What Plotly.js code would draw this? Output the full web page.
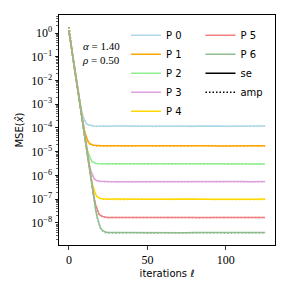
<!DOCTYPE html>
<html>
<head>
<meta charset="utf-8">
<script src="https://cdn.plot.ly/plotly-3.0.1.min.js"></script>
<style>html,body{margin:0;padding:0;background:#fff;}#chart{width:291px;height:291px;}</style>
</head>
<body>
<div id="chart"></div>
<script>
const iters = [0,1,2,3,4,5,6,7,8,9,10,11,12,13,14,15,16,17,18,19,20,21,22,23,24,
  25,30,35,40,45,50,55,60,65,70,75,80,85,90,95,100,105,110,115,120,125];

const seriesNames = ["P 0","P 1","P 2","P 3","P 4","P 5","P 6"];
const seriesColors = ["#add8e6","#ffa500","#90ee90","#dda0dd","#ffd700","#f08080","#8fbc8f"];

const seP0 = [1.26,0.452,0.161,0.0575,0.0210,0.00776,0.00296,0.00121,5.53e-4,3.02e-4,2.01e-4,1.59e-4,1.40e-4,1.31e-4,1.26e-4,1.24e-4,1.22e-4,1.21e-4,1.21e-4,1.20e-4,1.19e-4,1.20e-4,1.21e-4,1.19e-4,1.20e-4,
  1.19e-4,1.20e-4,1.18e-4,1.19e-4,1.21e-4,1.20e-4,1.18e-4,1.19e-4,1.20e-4,1.22e-4,1.20e-4,1.19e-4,1.18e-4,1.20e-4,1.21e-4,1.19e-4,1.18e-4,1.20e-4,1.21e-4,1.19e-4,1.22e-4];
const seP1 = [1.26,0.447,0.158,0.0565,0.0203,0.00731,0.00265,9.84e-4,3.79e-4,1.57e-4,7.36e-5,4.14e-5,2.84e-5,2.29e-5,2.04e-5,1.92e-5,1.86e-5,1.82e-5,1.80e-5,1.79e-5,1.78e-5,1.77e-5,1.79e-5,1.78e-5,1.77e-5,
  1.78e-5,1.76e-5,1.79e-5,1.77e-5,1.78e-5,1.80e-5,1.77e-5,1.76e-5,1.78e-5,1.79e-5,1.77e-5,1.78e-5,1.80e-5,1.78e-5,1.76e-5,1.79e-5,1.78e-5,1.77e-5,1.79e-5,1.78e-5,1.77e-5];
const seP2 = [1.26,0.447,0.158,0.0562,0.0200,0.00714,0.00257,9.25e-4,3.37e-4,1.26e-4,4.95e-5,2.12e-5,1.04e-5,6.28e-6,4.56e-6,3.81e-6,3.47e-6,3.30e-6,3.21e-6,3.16e-6,3.13e-6,3.11e-6,3.10e-6,3.09e-6,3.10e-6,
  3.09e-6,3.08e-6,3.10e-6,3.12e-6,3.09e-6,3.07e-6,3.10e-6,3.11e-6,3.08e-6,3.06e-6,3.09e-6,3.11e-6,3.10e-6,3.08e-6,3.07e-6,3.09e-6,3.12e-6,3.10e-6,3.08e-6,3.09e-6,3.07e-6];
const seP3 = [1.26,0.447,0.158,0.0562,0.0200,0.00708,0.00253,9.02e-4,3.24e-4,1.17e-4,4.32e-5,1.63e-5,6.56e-6,2.92e-6,1.53e-6,9.84e-7,7.55e-7,6.52e-7,6.04e-7,5.79e-7,5.66e-7,5.59e-7,5.54e-7,5.52e-7,5.50e-7,
  5.50e-7,5.48e-7,5.51e-7,5.53e-7,5.49e-7,5.47e-7,5.50e-7,5.52e-7,5.49e-7,5.48e-7,5.51e-7,5.50e-7,5.47e-7,5.49e-7,5.52e-7,5.50e-7,5.48e-7,5.51e-7,5.49e-7,5.47e-7,5.50e-7];
const seP4 = [1.26,0.447,0.158,0.0562,0.0200,0.00708,0.00251,8.97e-4,3.18e-4,1.14e-4,4.11e-5,1.49e-5,5.53e-6,2.13e-6,8.81e-7,4.14e-7,2.33e-7,1.60e-7,1.29e-7,1.15e-7,1.08e-7,1.045e-7,1.03e-7,1.02e-7,1.01e-7,
  1.00e-7,1.01e-7,0.99e-7,1.00e-7,1.02e-7,1.00e-7,0.99e-7,1.01e-7,1.00e-7,0.99e-7,1.01e-7,1.02e-7,1.00e-7,0.99e-7,1.00e-7,1.01e-7,1.00e-7,0.99e-7,1.01e-7,1.00e-7,1.01e-7];
const seP5 = [1.26,0.447,0.158,0.0562,0.0200,0.00708,0.00251,8.91e-4,3.17e-4,1.13e-4,4.02e-5,1.45e-5,5.20e-6,1.89e-6,7.10e-7,2.78e-7,1.19e-7,5.82e-8,3.48e-8,2.52e-8,2.10e-8,1.91e-8,1.81e-8,1.76e-8,1.73e-8,
  1.71e-8,1.70e-8,1.72e-8,1.74e-8,1.75e-8,1.73e-8,1.70e-8,1.69e-8,1.71e-8,1.70e-8,1.72e-8,1.70e-8,1.68e-8,1.70e-8,1.71e-8,1.69e-8,1.70e-8,1.72e-8,1.70e-8,1.69e-8,1.71e-8];
const seP6 = [1.26,0.447,0.158,0.0562,0.0200,0.00708,0.00251,8.91e-4,3.16e-4,1.12e-4,4.01e-5,1.43e-5,5.09e-6,1.83e-6,6.64e-7,2.45e-7,9.38e-8,3.84e-8,1.76e-8,9.66e-9,6.47e-9,5.13e-9,4.52e-9,4.23e-9,4.07e-9,
  3.98e-9,3.93e-9,3.90e-9,3.92e-9,3.95e-9,3.91e-9,3.88e-9,3.90e-9,3.93e-9,3.91e-9,3.89e-9,3.92e-9,3.94e-9,3.90e-9,3.88e-9,3.91e-9,3.93e-9,3.90e-9,3.92e-9,3.95e-9,3.93e-9];

const ampP0 = [1.8,0.47,0.165,0.058,0.0212,0.0078,0.0030,0.00122,5.6e-4,3.0e-4,2.0e-4,1.56e-4,1.38e-4,1.28e-4,1.24e-4,1.21e-4,1.17e-4,1.19e-4,1.16e-4,1.20e-4,1.15e-4,1.18e-4,1.21e-4,1.16e-4,1.19e-4,
  1.15e-4,1.21e-4,1.16e-4,1.18e-4,1.22e-4,1.17e-4,1.15e-4,1.20e-4,1.18e-4,1.23e-4,1.17e-4,1.16e-4,1.19e-4,1.21e-4,1.18e-4,1.16e-4,1.20e-4,1.17e-4,1.22e-4,1.18e-4,1.21e-4];
const ampP1 = [1.8,0.46,0.162,0.057,0.0205,0.0074,0.0027,9.9e-4,3.8e-4,1.55e-4,7.2e-5,4.0e-5,2.75e-5,2.2e-5,1.97e-5,1.86e-5,1.80e-5,1.76e-5,1.74e-5,1.77e-5,1.73e-5,1.76e-5,1.79e-5,1.74e-5,1.76e-5,
  1.74e-5,1.77e-5,1.75e-5,1.79e-5,1.74e-5,1.78e-5,1.75e-5,1.73e-5,1.77e-5,1.76e-5,1.74e-5,1.79e-5,1.76e-5,1.75e-5,1.73e-5,1.77e-5,1.75e-5,1.74e-5,1.78e-5,1.76e-5,1.74e-5];
const ampP2 = [1.8,0.46,0.162,0.057,0.0203,0.0072,0.0026,9.3e-4,3.35e-4,1.24e-4,4.85e-5,2.07e-5,1.01e-5,6.1e-6,4.4e-6,3.7e-6,3.36e-6,3.18e-6,3.12e-6,3.05e-6,3.09e-6,3.03e-6,3.07e-6,3.02e-6,3.06e-6,
  3.03e-6,3.07e-6,3.02e-6,3.08e-6,3.04e-6,3.01e-6,3.06e-6,3.09e-6,3.03e-6,3.00e-6,3.05e-6,3.08e-6,3.04e-6,3.02e-6,3.06e-6,3.03e-6,3.08e-6,3.05e-6,3.01e-6,3.06e-6,3.03e-6];
const ampP3 = [1.8,0.46,0.162,0.057,0.0203,0.0072,0.00257,9.1e-4,3.22e-4,1.15e-4,4.25e-5,1.6e-5,6.4e-6,2.85e-6,1.49e-6,9.6e-7,7.35e-7,6.35e-7,5.9e-7,5.62e-7,5.55e-7,5.45e-7,5.42e-7,5.38e-7,5.41e-7,
  5.37e-7,5.42e-7,5.39e-7,5.44e-7,5.36e-7,5.40e-7,5.43e-7,5.38e-7,5.41e-7,5.35e-7,5.40e-7,5.43e-7,5.37e-7,5.39e-7,5.42e-7,5.38e-7,5.36e-7,5.41e-7,5.39e-7,5.37e-7,5.40e-7];
const ampP4 = [1.8,0.46,0.162,0.057,0.0203,0.0072,0.00255,9.0e-4,3.15e-4,1.12e-4,4.05e-5,1.46e-5,5.4e-6,2.08e-6,8.6e-7,4.05e-7,2.28e-7,1.56e-7,1.26e-7,1.12e-7,1.05e-7,1.01e-7,0.99e-7,1.00e-7,0.98e-7,
  0.99e-7,0.97e-7,1.00e-7,0.98e-7,0.99e-7,1.01e-7,0.97e-7,0.99e-7,0.98e-7,1.00e-7,0.97e-7,0.99e-7,1.00e-7,0.98e-7,0.97e-7,0.99e-7,1.00e-7,0.98e-7,0.99e-7,0.97e-7,0.99e-7];
const ampP5 = [1.8,0.46,0.162,0.057,0.0203,0.0072,0.00255,9.0e-4,3.15e-4,1.11e-4,3.95e-5,1.42e-5,5.1e-6,1.85e-6,6.9e-7,2.72e-7,1.16e-7,5.7e-8,3.4e-8,2.46e-8,2.05e-8,1.86e-8,1.77e-8,1.72e-8,1.69e-8,
  1.67e-8,1.69e-8,1.70e-8,1.72e-8,1.73e-8,1.70e-8,1.67e-8,1.66e-8,1.69e-8,1.68e-8,1.70e-8,1.67e-8,1.66e-8,1.68e-8,1.69e-8,1.67e-8,1.68e-8,1.70e-8,1.67e-8,1.66e-8,1.68e-8];
const ampP6 = [1.8,0.46,0.162,0.057,0.0203,0.0072,0.00255,9.0e-4,3.14e-4,1.1e-4,3.95e-5,1.4e-5,5.0e-6,1.79e-6,6.5e-7,2.4e-7,9.2e-8,3.75e-8,1.7e-8,9.2e-9,6.1e-9,4.8e-9,4.2e-9,3.95e-9,3.8e-9,
  3.75e-9,3.72e-9,3.78e-9,3.70e-9,3.76e-9,3.73e-9,3.69e-9,3.75e-9,3.71e-9,3.77e-9,3.72e-9,3.74e-9,3.70e-9,3.76e-9,3.73e-9,3.71e-9,3.75e-9,3.72e-9,3.78e-9,3.74e-9,3.76e-9];

const yTickVals = [1e-8,1e-7,1e-6,1e-5,1e-4,1e-3,1e-2,1e-1,1e0];
const yTickText = ["10<sup>−8</sup>","10<sup>−7</sup>","10<sup>−6</sup>","10<sup>−5</sup>","10<sup>−4</sup>","10<sup>−3</sup>","10<sup>−2</sup>","10<sup>−1</sup>","10<sup>0</sup>"];
const xTickVals = [0,50,100];
const xTickText = ["0","50","100"];

const seAll = [seP0,seP1,seP2,seP3,seP4,seP5,seP6];
const ampAll = [ampP0,ampP1,ampP2,ampP3,ampP4,ampP5,ampP6];

const dotted = '1.5px,2px';

const traces = [];
for (let i = 0; i < seriesNames.length; i++) {
  traces.push({
    x: iters, y: seAll[i], type: 'scatter', mode: 'lines', name: seriesNames[i],
    line: {color: seriesColors[i], width: 1.5},
    legend: i < 5 ? 'legend' : 'legend2', legendgroup: 'g' + i
  });
  traces.push({
    x: iters, y: ampAll[i], type: 'scatter', mode: 'lines', showlegend: false,
    line: {color: seriesColors[i], width: 1.5, dash: dotted}
  });
}
traces.push({x: [null], y: [null], type: 'scatter', mode: 'lines', name: 'se',
  line: {color: '#000', width: 1.5}, legend: 'legend2', legendgroup: 'se'});
traces.push({x: [null], y: [null], type: 'scatter', mode: 'lines', name: 'amp',
  line: {color: '#000', width: 1.5, dash: dotted}, legend: 'legend2', legendgroup: 'amp'});

const serif = 'Liberation Serif, DejaVu Serif, serif';
const sans = 'DejaVu Sans, sans-serif';

const legendCommon = {
  bgcolor: 'rgba(0,0,0,0)', borderwidth: 0, font: {family: sans, size: 10, color: '#000'},
  yanchor: 'top', xanchor: 'left', tracegroupgap: 0, itemwidth: 30
};

const layout = {
  width: 291, height: 291,
  margin: {l: 59, r: 16, t: 15, b: 46},
  paper_bgcolor: '#fff', plot_bgcolor: '#fff',
  showlegend: true,
  xaxis: {
    range: [-6.3, 131.3], tickmode: 'array', tickvals: xTickVals, ticktext: xTickText,
    ticks: 'outside', ticklen: 3.5, tickwidth: 0.8, tickcolor: '#000',
    showline: true, linecolor: '#000', linewidth: 1, mirror: true,
    showgrid: false, zeroline: false,
    tickfont: {family: serif, size: 12, color: '#000'},
    title: {text: 'iterations <i>ℓ</i>', font: {family: sans, size: 10, color: '#000'}, standoff: 4}
  },
  yaxis: {
    type: 'log', range: [-8.93, 0.76], tickmode: 'array', tickvals: yTickVals, ticktext: yTickText,
    ticks: 'outside', ticklen: 3.5, tickwidth: 0.8, tickcolor: '#000',
    showline: true, linecolor: '#000', linewidth: 1, mirror: true,
    showgrid: false, zeroline: false,
    tickfont: {family: serif, size: 12, color: '#000'},
    minor: {ticks: 'outside', ticklen: 2, tickwidth: 0.6, tickcolor: '#000', dtick: 'D1', tickmode: 'linear', showgrid: false},
    title: {text: 'MSE(<i>x̂</i>)', font: {family: sans, size: 10, color: '#000'}, standoff: 5}
  },
  legend: Object.assign({}, legendCommon, {x: 0.31, y: 0.975}),
  legend2: Object.assign({}, legendCommon, {x: 0.655, y: 0.975}),
  annotations: [
    {xref: 'paper', yref: 'paper', x: 0.095, y: 0.834, xanchor: 'left', yanchor: 'middle', showarrow: false,
     align: 'left', text: '<i>α</i> = 1.40<br><i>ρ</i> = 0.50', font: {family: serif, size: 11, color: '#000'}}
  ]
};

Plotly.newPlot('chart', traces, layout, {displayModeBar: false, staticPlot: true});
</script>
</body>
</html>
